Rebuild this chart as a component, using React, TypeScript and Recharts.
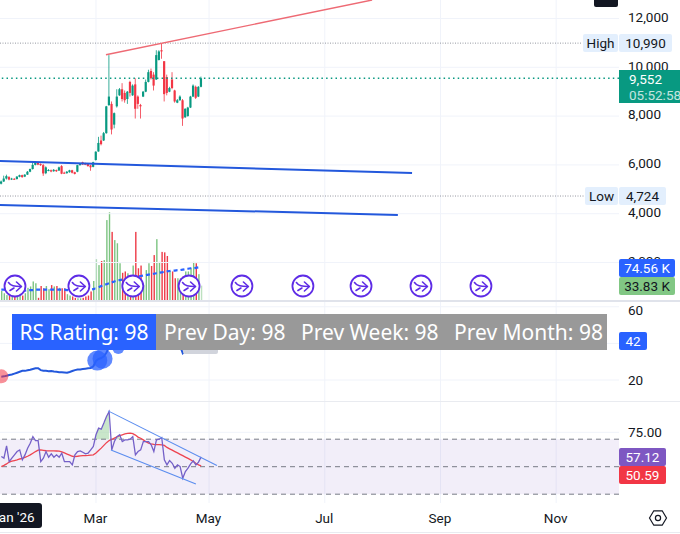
import { ComposedChart, Bar, Line, Area, XAxis, YAxis, CartesianGrid, ReferenceLine, ReferenceDot, ReferenceArea } from 'recharts';

// OHLC per trading bar
const opens = [5230, 5320, 5440, 5500, 5400, 5430, 5420, 5510, 5580, 5520, 5600, 5720, 5830, 6000, 6090, 6040, 5990, 5660, 5760, 5780, 5740, 5790, 5770, 5950, 5680, 5660, 5700, 5780, 5700, 5720, 5990, 6110, 6070, 6040, 5980, 5920, 6200, 6550, 7000, 7000, 7300, 8450, 8500, 7650, 8400, 8850, 9100, 8950, 8700, 9400, 8850, 9300, 8800, 8450, 8800, 9000, 9400, 9850, 9700, 9500, 10300, 10700, 10250, 9600, 9000, 9500, 9050, 8550, 8650, 8650, 7950, 8000, 8350, 8800, 9200, 8800, 9200];
const closes = [5320, 5440, 5540, 5400, 5440, 5420, 5520, 5580, 5500, 5600, 5720, 5830, 6000, 6120, 6010, 5990, 5650, 5900, 5790, 5730, 5800, 5740, 5900, 5640, 5670, 5720, 5780, 5680, 5630, 5990, 6040, 6020, 6010, 5950, 5900, 6110, 6540, 6900, 6850, 7300, 8400, 8800, 7450, 8120, 8800, 9100, 8700, 8650, 9000, 8950, 9250, 8300, 8500, 8400, 9000, 9400, 9800, 9550, 9250, 10500, 10650, 10650, 8900, 8950, 9150, 9150, 8600, 8650, 8800, 7900, 8300, 8350, 8800, 9250, 8750, 9200, 9552];
const highs = [5360, 5560, 5600, 5540, 5470, 5460, 5540, 5600, 5600, 5620, 5750, 5850, 6130, 6150, 6110, 6060, 6040, 5940, 5830, 5810, 5830, 5810, 5930, 5990, 5720, 5750, 5800, 5800, 5720, 6000, 6060, 6130, 6090, 6060, 6000, 6130, 6560, 7150, 7200, 7350, 8420, 10500, 8600, 8150, 9100, 9150, 9350, 9050, 9030, 9450, 9300, 9550, 8850, 8500, 9030, 9500, 9900, 9950, 9800, 10700, 10700, 10990, 10250, 9700, 9200, 9800, 9080, 8700, 8850, 8700, 8320, 8380, 8830, 9300, 9250, 9230, 9620];
const lows = [5200, 5300, 5400, 5370, 5380, 5390, 5400, 5490, 5470, 5500, 5590, 5700, 5810, 5980, 5990, 5960, 5550, 5620, 5740, 5700, 5720, 5710, 5750, 5620, 5640, 5640, 5680, 5650, 5610, 5700, 5970, 6000, 5990, 5930, 5760, 5900, 6180, 6540, 6800, 6980, 7280, 8420, 7250, 7500, 8350, 8830, 8600, 8550, 8500, 8800, 8830, 7900, 8300, 7900, 8780, 8980, 9380, 9500, 9050, 9480, 10280, 10350, 8600, 8850, 8980, 9100, 8550, 8530, 8630, 7600, 7930, 7980, 8330, 8780, 8700, 8780, 9180];

const volumes = [22, 17, 13, 12, 10, 12, 10, 13, 12, 17, 29, 32, 43, 39, 7, 33, 28, 33, 26, 35, 32, 33, 29, 28, 28, 15, 12, 10, 7, 6, 6, 7, 10, 12, 21, 44, 92, 79, 88, 90, 178, 195, 152, 134, 127, 83, 62, 65, 61, 54, 78, 152, 72, 78, 35, 68, 83, 77, 101, 136, 86, 108, 107, 99, 65, 65, 50, 50, 50, 54, 65, 65, 72, 86, 83, 59, 33.83];
const volumeMa = [25, 25, 24, 24, 24, 24, 23, 23, 23, 23, 24, 24, 24, 25, 25, 25, 25, 25, 25, 25, 25, 25, 25, 25, 25, 24, 24, 24, 24, 24, 24, 24, 24, 25, 25, 26, 28, 30, 33, 35, 37, 39, 41, 43, 45, 46, 47, 48, 49, 50, 51, 53, 54, 55, 56, 57, 58, 59, 60, 61, 62, 63, 64, 65, 66, 67, 67, 68, 68, 69, 70, 71, 72, 72, 73, 74, 74.56];

const rsLine = [21.8, 22, 22.3, 22.7, 23, 23.5, 24, 24.5, 25, 25, 25.3, 25.6, 26, 26.4, 26.4, 25.4, 25.1, 25, 24.8, 24.9, 24.6, 24.5, 24.3, 24.2, 24.1, 24, 24.4, 24.9, 25.4, 25.7, 25.8, 26, 26.2, 26.4, 26.6, 27.5, 30.4, 31.5, 32, 33, 35, 38, 37, 37.5, 38, 38.5, 38, 38, 38.5, 39, 40, 41, 40.5, 40, 40.5, 41, 42, 42.5, 42, 43, 44, 44.5, 42, 41.5, 42, 41, 40, 39.5, 38.5, 34.6, 36, 37, 38.5, 40, 39.5, 41, 42];
const rsDotsBlue = [[36.5, 30.6, 10], [38.5, 31.6, 10], [44.5, 37.5, 6]];
const rsDotsRed = [[0, 22, 7]];

const rsi = [57.4, 56.2, 65.1, 53.7, 56.2, 58.6, 61, 62.2, 55, 58.6, 63.4, 67.1, 71.9, 69, 69, 53.7, 56.2, 61, 56.9, 59.3, 56.9, 58.6, 56.9, 59.8, 53.7, 53.7, 53.7, 51.3, 58.6, 61, 61.5, 60.5, 59.3, 59.8, 62.2, 64.7, 73.2, 78, 77.3, 81.7, 86.5, 90.1, 62.2, 68.3, 71.9, 73.2, 68.3, 69.5, 69.5, 70, 71.9, 58.6, 61, 62.2, 68.3, 68.3, 68.3, 65.9, 61, 69.5, 70, 71.2, 55, 51.3, 54.5, 52.5, 48.9, 51.3, 50.1, 41.6, 46.5, 48.9, 52, 54.2, 51.3, 53.3, 57.12];
const rsiMa = [50.1, 51, 52, 53.4, 54, 54.5, 55, 55.6, 56.1, 56.8, 57.6, 58.6, 59.8, 61, 62, 62.2, 61.9, 61.6, 61.5, 61.5, 61.5, 61.4, 61.3, 60.8, 60, 59.2, 58.4, 57.6, 57.4, 57.6, 57.9, 58, 58.1, 58.2, 58.4, 58.6, 60, 61.8, 63.5, 65.5, 67.5, 69, 69.8, 70.8, 71.8, 72.6, 73.2, 73.8, 74.2, 74.4, 74, 73, 71.5, 70.7, 69.5, 68.2, 67.1, 66.6, 66.2, 66, 66, 65.9, 65.5, 64, 63, 62, 61, 60, 59, 58, 57, 56, 55, 53.8, 52.5, 51.3, 50.59];

const priceTicks = [2000, 4000, 6000, 8000, 10000, 12000];
const rsTicks = [20, 40, 60];
const rsiTicks = [25, 75];
const rsiLevels = [30, 50, 70];
const timeTicks = [36, 79, 123, 167, 211];
const timeLabels = ['Mar', 'May', 'Jul', 'Sep', 'Nov'];
const iconBars = [5.2, 29.5, 50, 71.4, 91.5, 114.7, 136.8, 159.6, 182.4];

const bandTable = [
  { label: 'Prev Day: 98', left: 164 },
  { label: 'Prev Week: 98', left: 301 },
  { label: 'Prev Month: 98', left: 454 },
];

const UP = '#089981';
const DOWN = '#f23645';
const BLUE = '#2962ff';
const TREND = '#2358dc';
const GRID = '#f0f3fa';
const INK = '#131722';
const FONT = 'Roboto, sans-serif';
const X_DOMAIN: [number, number] = [-0.5, 234.9];

const bars = opens.map((o, i) => ({
  i,
  open: o,
  close: closes[i],
  range: [lows[i], highs[i]],
  vol: volumes[i],
  volMa: volumeMa[i],
  rs: rsLine[i],
  rsi: rsi[i],
  rsiMa: rsiMa[i],
  ob: rsi[i] > 70 ? [70, rsi[i]] : null,
}));

function Candle(props: any) {
  const { x, y, width, height, payload } = props;
  const [low, high] = payload.range;
  const k = height / (high - low);
  const color = payload.close >= payload.open ? UP : DOWN;
  const top = y + (high - Math.max(payload.open, payload.close)) * k;
  const h = Math.max(Math.abs(payload.close - payload.open) * k, 1);
  return (
    <g>
      <rect x={x + width / 2 - 0.4} y={y} width={0.8} height={height} fill={color} />
      <rect x={x} y={top} width={width} height={h} fill={color} />
    </g>
  );
}

function VolumeBar(props: any) {
  const { x, y, width, height, payload } = props;
  const color = payload.close >= payload.open ? '#7cc481' : '#ee3b47';
  const faded = payload.i === bars.length - 1;
  return <rect x={x} y={y} width={width} height={height} fill={color} opacity={faded ? 0.5 : 1} />;
}

function ArrowIcon(props: any) {
  const { cx, cy } = props;
  return (
    <g transform={`translate(${cx},${cy})`} fill="none" stroke="#5e2ce6" strokeWidth={1.6} strokeLinecap="round" strokeLinejoin="round">
      <circle r={10.5} fill="#fff" strokeWidth={1.8} />
      <path d="M-6.5,-3.5 C-4,0 -1,0.5 6,0.5" />
      <path d="M1.5,-4 L6.5,0.5 L1.5,5" />
      <path d="M-5,4.5 L-1,2" />
    </g>
  );
}

function TimeTick(props: any) {
  const { x, payload, index } = props;
  return (
    <text x={x - 0.5} y={19.5} textAnchor="middle" fontSize={13.5} fontFamily={FONT} fill={INK}>
      {timeLabels[index] ?? payload.value}
    </text>
  );
}

function Tag({ top, left, width, height = 18, bg, color = '#fff', children }: any) {
  return (
    <div
      style={{
        position: 'absolute', top, left, width, height, background: bg, color,
        fontFamily: FONT, fontSize: 13.5, lineHeight: `${height}px`, textAlign: 'center', borderRadius: 2,
      }}
    >
      {children}
    </div>
  );
}

function Pane({ top, height, children }: any) {
  return <div style={{ position: 'absolute', left: 0, top, width: 680, height, overflow: 'hidden' }}>{children}</div>;
}

const axisTick = { fontSize: 13.5, fontFamily: FONT, fill: INK };
const priceTick = { ...axisTick, dy: -1.5 };

export default function App() {
  return (
    <div style={{ position: 'absolute', left: 0, top: 0, width: 680, height: 534, overflow: 'hidden', background: '#fff' }}>
      {/* volume under the candles, same plot box */}
      <Pane top={0} height={301}>
        <ComposedChart width={680} height={301} data={bars} margin={{ top: 0, right: 61, bottom: 0, left: 0 }}>
          <XAxis dataKey="i" type="number" domain={X_DOMAIN} ticks={timeTicks} hide />
          <YAxis yAxisId="vol" domain={[0, 662]} hide />
          <Bar yAxisId="vol" dataKey="vol" barSize={1.4} shape={VolumeBar} isAnimationActive={false} />
          <Line yAxisId="vol" dataKey="volMa" stroke={BLUE} strokeWidth={2.2} strokeDasharray="4 3" dot={false} isAnimationActive={false} />
          {iconBars.map((b) => (
            <ReferenceDot key={b} yAxisId="vol" x={b} y={33} shape={ArrowIcon} ifOverflow="visible" />
          ))}
        </ComposedChart>
      </Pane>

      <Pane top={0} height={301}>
        <ComposedChart width={680} height={301} data={bars} margin={{ top: 0, right: 0, bottom: 0, left: 0 }}>
          <CartesianGrid stroke={GRID} syncWithTicks />
          <XAxis dataKey="i" type="number" domain={X_DOMAIN} ticks={timeTicks} hide />
          <YAxis orientation="right" width={61} domain={[422, 12758]} ticks={priceTicks} tickFormatter={(v: number) => v.toLocaleString('en-US')} tick={priceTick} tickLine={false} axisLine={false} tickMargin={3} />
          <ReferenceLine segment={[{ x: -0.5, y: 10990 }, { x: 221, y: 10990 }]} stroke="#9598a1" strokeDasharray="1 1.5" />
          <ReferenceLine segment={[{ x: -0.5, y: 4724 }, { x: 222, y: 4724 }]} stroke="#9598a1" strokeDasharray="1 1.5" />
          <ReferenceLine y={9552} stroke={UP} strokeWidth={1.5} strokeDasharray="1.5 3.2" />
          <Bar dataKey="range" barSize={2.2} shape={Candle} isAnimationActive={false} />
          <ReferenceLine segment={[{ x: -0.5, y: 6160 }, { x: 156.2, y: 5668 }]} stroke={TREND} strokeWidth={2} />
          <ReferenceLine segment={[{ x: -0.5, y: 4357 }, { x: 150.8, y: 3947 }]} stroke={TREND} strokeWidth={2} />
          <ReferenceLine segment={[{ x: 39.8, y: 10516 }, { x: 141, y: 12758 }]} stroke="#ee6a74" strokeWidth={1.4} />
        </ComposedChart>
      </Pane>

      <div style={{ position: 'absolute', left: 0, top: 300, width: 680, height: 2, background: '#e0e3eb' }} />

      <Pane top={302} height={100}>
        <ComposedChart width={680} height={100} data={bars} margin={{ top: 0, right: 0, bottom: 0, left: 0 }}>
          <CartesianGrid stroke={GRID} syncWithTicks />
          <XAxis dataKey="i" type="number" domain={X_DOMAIN} ticks={timeTicks} hide />
          <YAxis orientation="right" width={61} domain={[8, 62.6]} ticks={rsTicks} tick={axisTick} tickLine={false} axisLine={false} tickMargin={3} />
          <Line dataKey="rs" stroke={TREND} strokeWidth={2} dot={false} isAnimationActive={false} />
          {rsDotsRed.map(([x, y, r]) => (
            <ReferenceDot key={x} x={x} y={y} r={r} fill={DOWN} fillOpacity={0.55} stroke="none" ifOverflow="visible" />
          ))}
          {rsDotsBlue.map(([x, y, r]) => (
            <ReferenceDot key={x} x={x} y={y} r={r} fill={BLUE} fillOpacity={0.75} stroke="none" ifOverflow="visible" />
          ))}
        </ComposedChart>
      </Pane>

      <div style={{ position: 'absolute', left: 183, top: 350, width: 35, height: 4, background: '#d1d4dc', borderRadius: '0 0 2px 2px' }} />

      <div style={{ position: 'absolute', left: 0, top: 401, width: 680, height: 1, background: '#e9ebf0' }} />

      <Pane top={402} height={101}>
        <ComposedChart width={680} height={101} data={bars} margin={{ top: 0, right: 0, bottom: 0, left: 0 }}>
          <CartesianGrid stroke={GRID} syncWithTicks />
          <XAxis dataKey="i" type="number" domain={X_DOMAIN} ticks={timeTicks} hide />
          <YAxis orientation="right" width={61} domain={[23.6, 97.05]} ticks={rsiTicks} tickFormatter={(v: number) => v.toFixed(2)} tick={axisTick} tickLine={false} axisLine={false} tickMargin={3} />
          <ReferenceArea y1={30} y2={70} fill="#7e57c2" fillOpacity={0.1} stroke="none" />
          {rsiLevels.map((v) => (
            <ReferenceLine key={v} y={v} stroke="#787b86" strokeDasharray="5 4" />
          ))}
          <Area dataKey="ob" stroke="none" fill="#a5d6a7" fillOpacity={0.6} connectNulls={false} dot={false} activeDot={false} isAnimationActive={false} />
          <Line dataKey="rsiMa" stroke="#ee4450" strokeWidth={1.3} dot={false} isAnimationActive={false} />
          <Line dataKey="rsi" stroke="#7460c8" strokeWidth={1.3} dot={false} isAnimationActive={false} />
          <ReferenceLine segment={[{ x: 40.6, y: 90.6 }, { x: 82, y: 50.8 }]} stroke="#5b8def" strokeWidth={1.1} />
          <ReferenceLine segment={[{ x: 41.7, y: 62.2 }, { x: 74, y: 37.5 }]} stroke="#5b8def" strokeWidth={1.1} />
        </ComposedChart>
      </Pane>

      <Pane top={503} height={30}>
        <ComposedChart width={680} height={30} data={bars} margin={{ top: 0, right: 61, bottom: 0, left: 0 }}>
          <XAxis dataKey="i" type="number" domain={X_DOMAIN} ticks={timeTicks} tick={TimeTick} tickLine={false} axisLine={false} height={24} interval={0} />
        </ComposedChart>
      </Pane>
      <div style={{ position: 'absolute', left: 0, top: 532, width: 680, height: 1, background: '#e9ebf0' }} />

      <div style={{ position: 'absolute', left: -16, top: 503, width: 58, height: 25, background: INK, color: '#fff', borderRadius: 3, fontFamily: FONT, fontSize: 13.5, lineHeight: '29px', textAlign: 'center' }}>
        Jan '26
      </div>

      {/* RS table on top of the pane */}
      <div style={{ position: 'absolute', left: 12, top: 314, width: 595, height: 36, background: '#999999', color: '#fff', fontFamily: '"Noto Sans", sans-serif', fontSize: 21, lineHeight: '36px' }}>
        <div style={{ position: 'absolute', left: 0, top: 0, width: 144, height: 36, background: BLUE, textAlign: 'center' }}>RS Rating: 98</div>
        {bandTable.map((c) => (
          <div key={c.label} style={{ position: 'absolute', left: c.left - 12, top: 0, whiteSpace: 'nowrap' }}>{c.label}</div>
        ))}
      </div>

      <div style={{ position: 'absolute', left: 594, top: 0, width: 24, height: 7, background: INK, borderRadius: '0 0 2px 2px' }} />

      <Tag top={34} left={583} width={35} bg="#e3effd" color={INK}>High</Tag>
      <Tag top={34} left={619} width={53} bg="#e3effd" color={INK}>10,990</Tag>
      <Tag top={187} left={585} width={33} bg="#e3effd" color={INK}>Low</Tag>
      <Tag top={187} left={619} width={47} bg="#e3effd" color={INK}>4,724</Tag>

      <div style={{ position: 'absolute', top: 70, left: 619, width: 61, height: 33, background: UP, color: '#fff', fontFamily: FONT, fontSize: 13.5, lineHeight: '16px', padding: '1px 0 0 10px', boxSizing: 'border-box', whiteSpace: 'nowrap' }}>
        <div>9,552</div>
        <div style={{ opacity: 0.75 }}>05:52:58</div>
      </div>

      <Tag top={259} left={619} width={56} bg={BLUE}>74.56 K</Tag>
      <Tag top={277} left={619} width={56} bg="#81c784" color={INK}>33.83 K</Tag>
      <Tag top={332} left={619} width={28} bg={BLUE}>42</Tag>
      <Tag top={448} left={619} width={47} bg="#7e57c2">57.12</Tag>
      <Tag top={466} left={619} width={47} bg={DOWN}>50.59</Tag>

      <svg style={{ position: 'absolute', left: 648, top: 508 }} width={20} height={20} viewBox="0 0 20 20" fill="none" stroke={INK} strokeWidth={1.2}>
        <path d="M1.5,10 L5.8,2.8 L14.2,2.8 L18.5,10 L14.2,17.2 L5.8,17.2 Z" />
        <circle cx={10} cy={10} r={2.6} />
      </svg>
    </div>
  );
}
